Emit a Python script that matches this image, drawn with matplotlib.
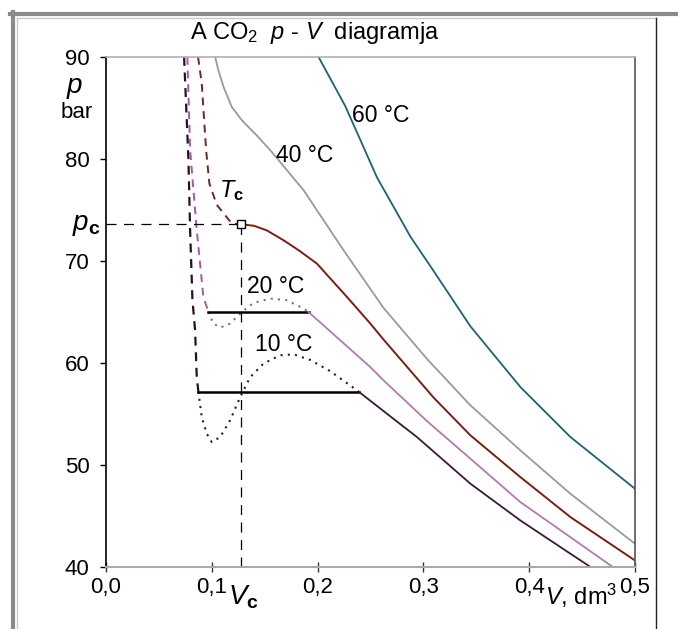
import matplotlib
matplotlib.use('Agg')
import matplotlib.pyplot as plt
from matplotlib.lines import Line2D

plt.rcParams['font.family'] = ['Liberation Sans', 'DejaVu Sans']
plt.rcParams['mathtext.fontset'] = 'custom'
plt.rcParams['mathtext.rm'] = 'Liberation Sans'
plt.rcParams['mathtext.it'] = 'Liberation Sans:italic'
plt.rcParams['mathtext.bf'] = 'Liberation Sans:bold'

# critical point
Vc = 0.1277
pc = 73.6

# 60 C isotherm
V_60 = [0.2009, 0.2261, 0.2561, 0.2879, 0.3081, 0.3444, 0.3917, 0.4390, 0.5000]
p_60 = [90.0, 85.2, 78.2, 72.36, 69.26, 63.6, 57.64, 52.74, 47.67]

# 40 C isotherm
V_40 = [0.1032, 0.1062, 0.1110, 0.1189, 0.1284, 0.1426, 0.1552, 0.1867, 0.2245,
        0.2623, 0.3034, 0.3444, 0.3917, 0.4390, 0.5000]
p_40 = [90.0, 88.7, 87.1, 85.1, 83.8, 82.3, 80.87, 76.95, 71.06,
        65.4, 60.4, 55.85, 51.43, 47.18, 42.28]

# critical isotherm Tc
V_tc_dash = [0.0870, 0.0905, 0.0946, 0.0977, 0.1047, 0.1189, Vc]
p_tc_dash = [90.0, 87.4, 80.9, 77.6, 75.5, 73.68, pc]
V_tc = [Vc, 0.1400, 0.1520, 0.1677, 0.1820, 0.1993, 0.2277, 0.2498, 0.2623,
        0.3097, 0.3444, 0.3917, 0.4390, 0.5000]
p_tc = [pc, 73.45, 73.0, 72.04, 71.06, 69.75, 66.48, 63.87, 62.3,
        56.6, 52.91, 48.81, 44.89, 40.64]

# 20 C isotherm
V_20_liq = [0.0769, 0.0795, 0.0858, 0.0889, 0.0920, 0.0968]
p_20_liq = [90.0, 80.9, 73.0, 69.75, 66.5, 65.0]
V_20_loop = [0.0968, 0.1015, 0.1079, 0.1173, 0.1284, 0.1394, 0.1552, 0.1710, 0.1867, 0.1914]
p_20_loop = [65.0, 63.87, 63.47, 63.87, 65.0, 65.89, 66.32, 66.15, 65.34, 65.0]
p_20_sat = 65.0
V_20 = [0.1914, 0.2498, 0.2623, 0.3034, 0.3444, 0.3917, 0.4390, 0.4790]
p_20 = [65.0, 59.6, 58.3, 54.3, 50.62, 46.36, 42.92, 40.0]

# 10 C isotherm
V_10_liq = [0.0738, 0.0779, 0.0795, 0.0817, 0.0842, 0.0858, 0.0873]
p_10_liq = [90.0, 80.0, 73.0, 66.2, 63.2, 58.6, 57.2]
V_10_loop = [0.0873, 0.0905, 0.0952, 0.1000, 0.1079, 0.1173, 0.1268, 0.1362,
             0.1488, 0.1646, 0.1772, 0.1930, 0.2119, 0.2308, 0.2387]
p_10_loop = [57.2, 54.7, 53.07, 52.25, 52.74, 54.38, 56.66, 58.6,
             59.94, 60.76, 60.85, 60.3, 59.2, 57.8, 57.2]
p_10_sat = 57.2
V_10 = [0.2387, 0.2655, 0.2939, 0.3444, 0.3917, 0.4390, 0.4580]
p_10 = [57.2, 55.03, 52.74, 48.17, 44.56, 41.3, 40.0]

x_ticks = [0.0, 0.1, 0.2, 0.3, 0.4, 0.5]
x_tick_labels = ['0,0', '0,1', '0,2', '0,3', '0,4', '0,5']
y_ticks = [40, 50, 60, 70, 80, 90]

c_60 = '#1d6272'
c_40 = '#9a9a9a'
c_tc = '#7a1e12'
c_20 = '#b27ab0'
c_10 = '#3a1838'

W, H = 678, 629
fig = plt.figure(figsize=(W / 100, H / 100), dpi=100)
ax = fig.add_axes([106 / W, 1 - 567 / H, (635 - 106) / W, (567 - 57) / H])
ax.set_xlim(0, 0.5)
ax.set_ylim(40, 90)

# isotherms
ax.plot(V_60, p_60, color=c_60, lw=1.3)
ax.plot(V_40, p_40, color=c_40, lw=1.3)
ax.plot(V_tc_dash, p_tc_dash, color='#6a2a22', lw=1.4, dashes=(4, 3))
ax.plot(V_tc, p_tc, color=c_tc, lw=1.4)
ax.plot(V_20_liq, p_20_liq, color='#a65aa0', lw=1.4, dashes=(4, 3))
ax.plot(V_20_loop, p_20_loop, color='#777777', lw=1.5, ls=(0, (1, 2.5)))
ax.plot([V_20_loop[0], V_20[0]], [p_20_sat, p_20_sat], color='black', lw=1.8)
ax.plot(V_20, p_20, color=c_20, lw=1.3)
ax.plot(V_10_liq, p_10_liq, color='#2a1020', lw=1.6, dashes=(4, 3))
ax.plot(V_10_loop, p_10_loop, color='#222222', lw=1.5, ls=(0, (1, 2.5)))
ax.plot([V_10_loop[0], V_10[0]], [p_10_sat, p_10_sat], color='black', lw=1.8)
ax.plot(V_10, p_10, color=c_10, lw=1.3)

# critical point guides
ax.plot([0, Vc], [pc, pc], color='black', lw=0.9, dashes=(8, 6))
ax.plot([Vc, Vc], [40, pc], color='black', lw=0.9, dashes=(8, 6))
ax.plot([Vc], [pc], marker='s', ms=5.5, mfc='white', mec='black', mew=1.0)

# curve labels
lab = 16.5
ax.text(0.2600, 84.3, '60 °C', fontsize=lab, ha='center', va='center')
ax.text(0.1873, 80.3, '40 °C', fontsize=lab, ha='center', va='center')
ax.text(0.1183, 76.9, '$T_\\mathbf{c}$', fontsize=17, ha='center', va='center')
ax.text(0.1600, 67.5, '20 °C', fontsize=lab, ha='center', va='center')
ax.text(0.1675, 61.8, '10 °C', fontsize=lab, ha='center', va='center')

# axes styling
ax.set_xticks(x_ticks)
ax.set_xticklabels(x_tick_labels)
ax.set_yticks(y_ticks)
ax.tick_params(axis='y', direction='out', length=4, width=1, pad=8, labelsize=16)
ax.tick_params(axis='x', direction='inout', length=7, width=1, pad=4, labelsize=16,
               color='#333333')
ax.spines['left'].set_color('black')
ax.spines['left'].set_linewidth(1.2)
ax.spines['bottom'].set_color('#aaaaaa')
ax.spines['bottom'].set_linewidth(1.5)
ax.spines['top'].set_color('#b0b0b0')
ax.spines['top'].set_linewidth(1.2)
ax.spines['right'].set_color('#555555')
ax.spines['right'].set_linewidth(1.2)

def fx(px):
    return px / W

def fy(py):
    return 1 - py / H

fig.text(fx(315), fy(33), 'A CO$_2$  $p$ - $V$  diagramja', fontsize=17,
         ha='center', va='center')
fig.text(fx(75), fy(88), '$p$', fontsize=20, ha='center', va='center')
fig.text(fx(77), fy(112), 'bar', fontsize=16, ha='center', va='center')
fig.text(fx(86), fy(225), '$p_\\mathbf{c}$', fontsize=20, ha='center', va='center')
fig.text(fx(243), fy(597), '$V_\\mathbf{c}$', fontsize=20, ha='center', va='center')
fig.text(fx(581), fy(596), '$V$, dm$^3$', fontsize=17, ha='center', va='center')

# window frame
fig.add_artist(Line2D([fx(10), fx(678)], [fy(13.5), fy(13.5)], color='#8a8a8a', lw=3))
fig.add_artist(Line2D([fx(12.5), fx(12.5)], [fy(12), fy(629)], color='#8a8a8a', lw=3))
fig.add_artist(Line2D([fx(16.5), fx(656)], [fy(17.5), fy(17.5)], color='#c8c8c8', lw=1))
fig.add_artist(Line2D([fx(16.5), fx(16.5)], [fy(17.5), fy(629)], color='#c8c8c8', lw=1))
fig.add_artist(Line2D([fx(656), fx(656)], [fy(17.5), fy(629)], color='#222222', lw=1))

fig.savefig('out.png', dpi=100)
